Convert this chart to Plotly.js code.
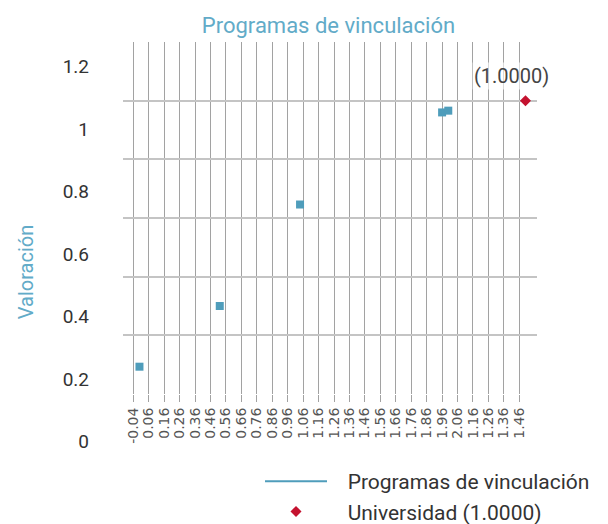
<!DOCTYPE html>
<html>
<head>
<meta charset="utf-8">
<script src="https://cdn.plot.ly/plotly-3.0.1.min.js"></script>
<style>html,body{margin:0;padding:0;background:#fff;}#chart{width:608px;height:524px;}</style>
</head>
<body>
<div id="chart"></div>
<script>
// ---- data ----
var seriesName = "Programas de vinculación";
var uniName = "Universidad (1.0000)";
var progX = [0.0, 0.52, 1.04, 1.96, 2.0];
var progY = [0.093, 0.30, 0.646, 0.96, 0.966];
var uniX = [2.5];
var uniY = [1.0];
var uniLabel = "(1.0000)";
var xTickVals = [-0.04, 0.06, 0.16, 0.26, 0.36, 0.46, 0.56, 0.66, 0.76, 0.86, 0.96, 1.06, 1.16, 1.26, 1.36, 1.46, 1.56, 1.66, 1.76, 1.86, 1.96, 2.06, 2.16, 2.26, 2.36, 2.46];
var xTickText = ["-0.04", "0.06", "0.16", "0.26", "0.36", "0.46", "0.56", "0.66", "0.76", "0.86", "0.96", "1.06", "1.16", "1.26", "1.36", "1.46", "1.56", "1.66", "1.76", "1.86", "1.96", "2.06", "1.16", "1.26", "1.36", "1.46"];
var yGridVals = [0, 0.2, 0.4, 0.6, 0.8, 1.0, 1.2];
var yTickVals = [0, 0.2, 0.4, 0.6, 0.8, 1.0, 1.2];
var yTickText = ["0", "0.2", "0.4", "0.6", "0.8", "1", "1.2"];

var teal = "#4f9dbb";
var tealText = "#62abc8";
var red = "#c4122f";
var W = 608, H = 524, mL = 10, mR = 10, mT = 20, mB = 20;
var pw = W - mL - mR, ph = H - mT - mB;
function fx(px) { return (px - mL) / pw; }
function fy(py) { return (H - mB - py) / ph; }
var pad = "\u00A0\u00A0\u00A0";

var traces = [
  { x: progX, y: progY, type: "scatter", mode: "markers", name: seriesName,
    marker: { symbol: "square", size: 8, color: teal }, showlegend: false, hoverinfo: "x+y" },
  { x: [null], y: [null], type: "scatter", mode: "lines", name: pad + seriesName,
    line: { color: teal, width: 2 }, showlegend: true },
  { x: uniX, y: uniY, type: "scatter", mode: "markers", name: pad + uniName,
    marker: { symbol: "diamond", size: 8.5, color: red }, showlegend: true },
  { x: [null], y: [null], type: "scatter", mode: "markers", xaxis: "x2", yaxis: "y2",
    showlegend: false, hoverinfo: "skip" }
];

var layout = {
  width: W, height: H,
  margin: { l: mL, r: mR, t: mT, b: mB, autoexpand: false },
  paper_bgcolor: "#ffffff", plot_bgcolor: "rgba(0,0,0,0)",
  showlegend: true,
  title: { text: seriesName, font: { family: "Roboto", size: 22, color: tealText },
           xref: "container", x: 328.5 / W, xanchor: "center",
           yref: "container", y: 1 - 25 / H, yanchor: "middle" },
  xaxis: {
    domain: [fx(123), fx(537)],
    range: [-0.1067, 2.5746], autorange: false,
    tickmode: "array", tickvals: xTickVals, ticktext: xTickText,
    tickangle: -90, ticks: "outside", ticklen: 7, tickcolor: "#a2a2a2", tickwidth: 1,
    showgrid: true, gridcolor: "#a2a2a2", gridwidth: 1,
    zeroline: false, showline: false, automargin: false,
    tickfont: { family: "DejaVu Sans", size: 14, color: "#555555" }
  },
  yaxis: {
    domain: [fy(394), fy(42)],
    range: [-0.0001, 1.2001], autorange: false,
    tickmode: "array", tickvals: yGridVals,
    showticklabels: false, ticks: "",
    showgrid: true, gridcolor: "#c4c4c4", gridwidth: 2,
    zeroline: false, showline: false, automargin: false
  },
  xaxis2: {
    domain: [fx(123), fx(537)], anchor: "y2", range: [0, 1], autorange: false,
    visible: false, showgrid: false, zeroline: false
  },
  yaxis2: {
    domain: [fy(482), fy(62)],
    range: [(441.7 - 482) / 312.5, (441.7 - 62) / 312.5], autorange: false,
    anchor: "free", position: fx(89), side: "left", automargin: false,
    tickmode: "array", tickvals: yTickVals, ticktext: yTickText,
    ticks: "", showgrid: false, zeroline: false, showline: false,
    tickfont: { family: "Roboto", size: 19, color: "#333333" },
    title: { text: "Valoración", font: { family: "Roboto", size: 20, color: tealText }, standoff: 22 }
  },
  legend: {
    x: fx(260), xanchor: "left", y: fy(461), yanchor: "top",
    bgcolor: "rgba(0,0,0,0)", itemwidth: 62, tracegroupgap: 0,
    font: { family: "Roboto", size: 21, color: "#333333" }
  },
  annotations: [
    { x: uniX[0], y: uniY[0], xref: "x", yref: "y", text: uniLabel, showarrow: false,
      xshift: -14, yshift: 25, bgcolor: "rgba(255,255,255,0.6)",
      font: { family: "Roboto", size: 20, color: "#444444" } }
  ]
};

Plotly.newPlot("chart", traces, layout, { displayModeBar: false, staticPlot: true });
</script>
</body>
</html>
